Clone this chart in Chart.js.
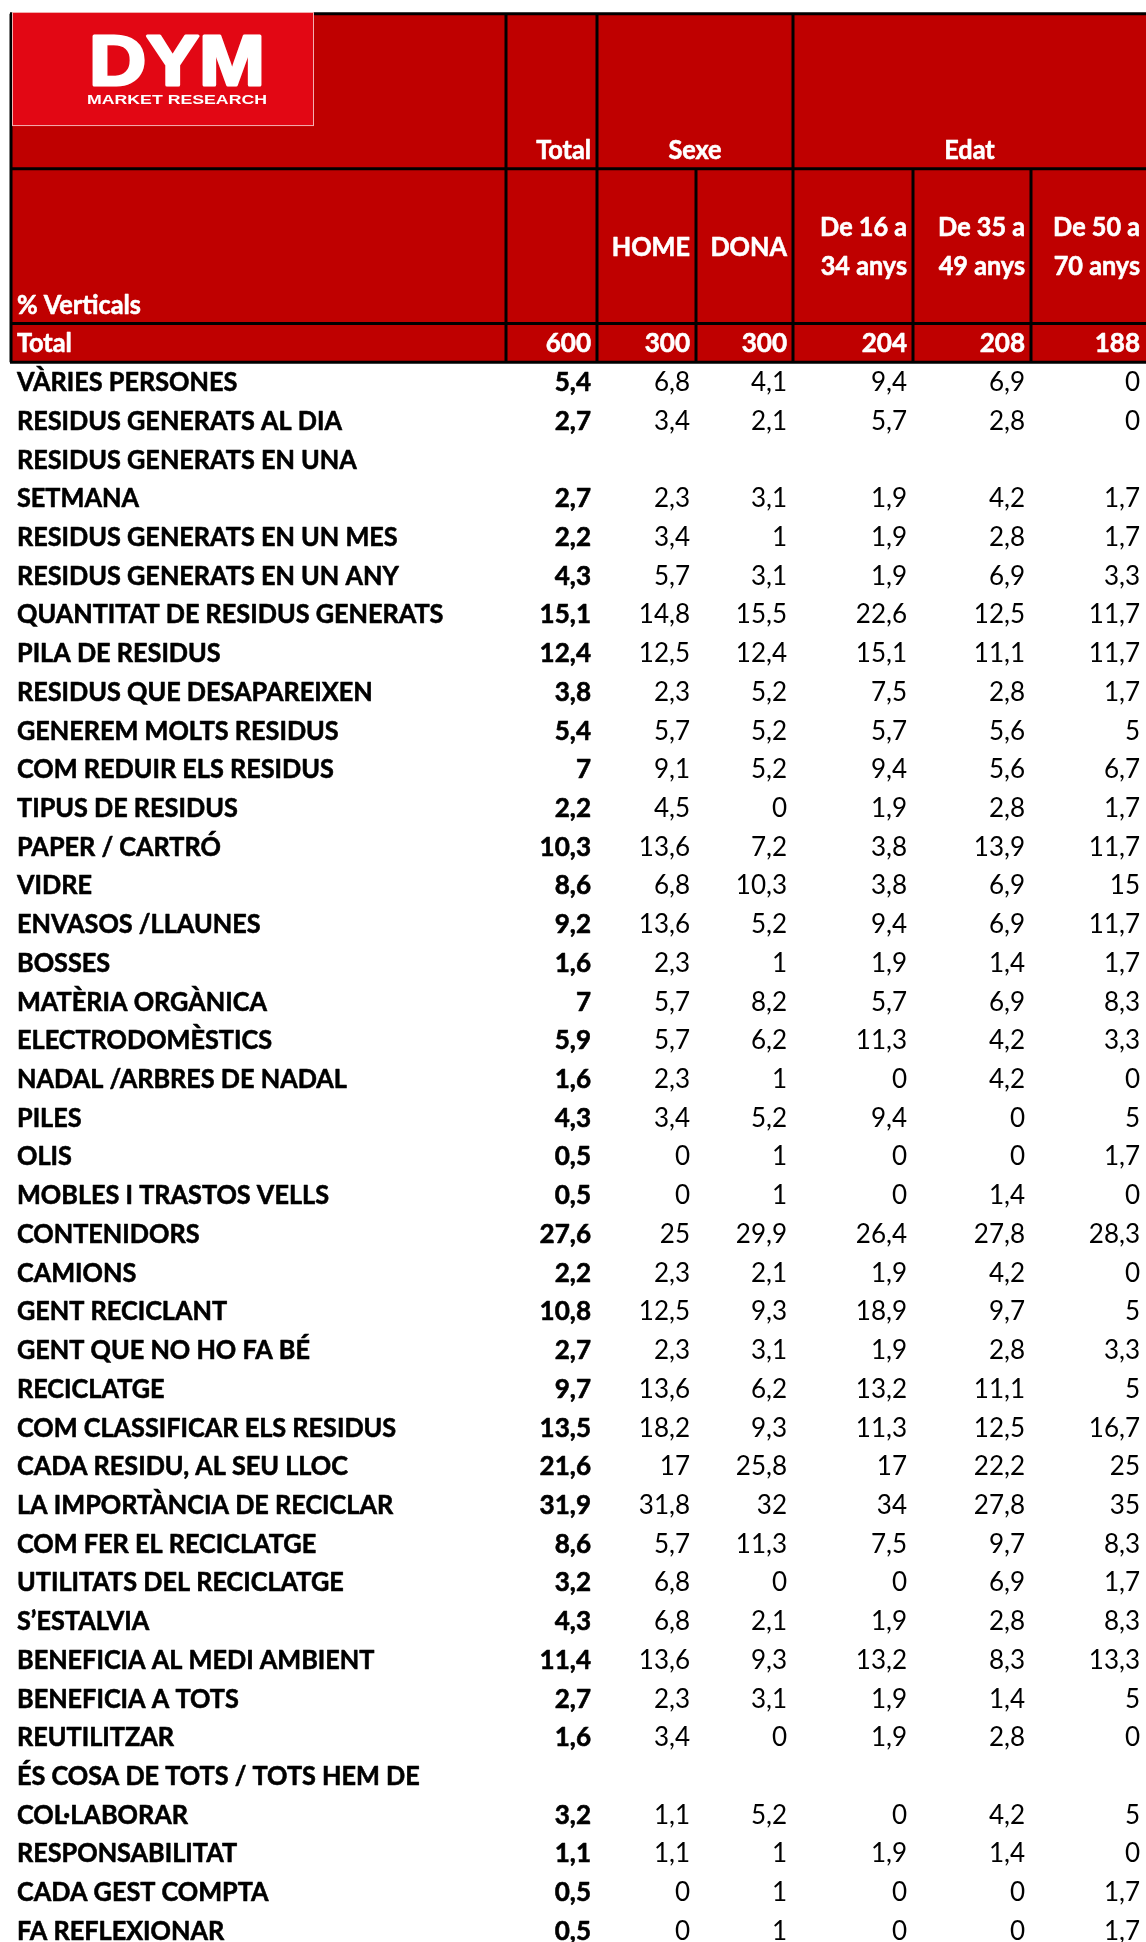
<!DOCTYPE html>
<html>
<head>
<meta charset="utf-8">
<script src="https://cdn.jsdelivr.net/npm/chart.js@4.4.1/dist/chart.umd.min.js"></script>
<style>
  html, body { margin: 0; padding: 0; background: #ffffff; }
  #wrap { width: 1146px; height: 1942px; }
</style>
</head>
<body>
<div id="wrap"><canvas id="tbl" width="1146" height="1942"></canvas></div>
<script>
// rows of the cross table (a "\n" marks where the label wraps in the cell)
const rowLabels = [
  'VÀRIES PERSONES',
  'RESIDUS GENERATS AL DIA',
  'RESIDUS GENERATS EN UNA\nSETMANA',
  'RESIDUS GENERATS EN UN MES',
  'RESIDUS GENERATS EN UN ANY',
  'QUANTITAT DE RESIDUS GENERATS',
  'PILA DE RESIDUS',
  'RESIDUS QUE DESAPAREIXEN',
  'GENEREM MOLTS RESIDUS',
  'COM REDUIR ELS RESIDUS',
  'TIPUS DE RESIDUS',
  'PAPER / CARTRÓ',
  'VIDRE',
  'ENVASOS /LLAUNES',
  'BOSSES',
  'MATÈRIA ORGÀNICA',
  'ELECTRODOMÈSTICS',
  'NADAL /ARBRES DE NADAL',
  'PILES',
  'OLIS',
  'MOBLES I TRASTOS VELLS',
  'CONTENIDORS',
  'CAMIONS',
  'GENT RECICLANT',
  'GENT QUE NO HO FA BÉ',
  'RECICLATGE',
  'COM CLASSIFICAR ELS RESIDUS',
  'CADA RESIDU, AL SEU LLOC',
  'LA IMPORTÀNCIA DE RECICLAR',
  'COM FER EL RECICLATGE',
  'UTILITATS DEL RECICLATGE',
  'S\u2019ESTALVIA',
  'BENEFICIA AL MEDI AMBIENT',
  'BENEFICIA A TOTS',
  'REUTILITZAR',
  'ÉS COSA DE TOTS / TOTS HEM DE\nCOL·LABORAR',
  'RESPONSABILITAT',
  'CADA GEST COMPTA',
  'FA REFLEXIONAR'
];

const totalVals = [5.4, 2.7, 2.7, 2.2, 4.3, 15.1, 12.4, 3.8, 5.4, 7, 2.2, 10.3, 8.6, 9.2, 1.6, 7, 5.9, 1.6, 4.3, 0.5, 0.5, 27.6, 2.2, 10.8, 2.7, 9.7, 13.5, 21.6, 31.9, 8.6, 3.2, 4.3, 11.4, 2.7, 1.6, 3.2, 1.1, 0.5, 0.5];
const homeVals  = [6.8, 3.4, 2.3, 3.4, 5.7, 14.8, 12.5, 2.3, 5.7, 9.1, 4.5, 13.6, 6.8, 13.6, 2.3, 5.7, 5.7, 2.3, 3.4, 0, 0, 25, 2.3, 12.5, 2.3, 13.6, 18.2, 17, 31.8, 5.7, 6.8, 6.8, 13.6, 2.3, 3.4, 1.1, 1.1, 0, 0];
const donaVals  = [4.1, 2.1, 3.1, 1, 3.1, 15.5, 12.4, 5.2, 5.2, 5.2, 0, 7.2, 10.3, 5.2, 1, 8.2, 6.2, 1, 5.2, 1, 1, 29.9, 2.1, 9.3, 3.1, 6.2, 9.3, 25.8, 32, 11.3, 0, 2.1, 9.3, 3.1, 0, 5.2, 1, 1, 1];
const age16Vals = [9.4, 5.7, 1.9, 1.9, 1.9, 22.6, 15.1, 7.5, 5.7, 9.4, 1.9, 3.8, 3.8, 9.4, 1.9, 5.7, 11.3, 0, 9.4, 0, 0, 26.4, 1.9, 18.9, 1.9, 13.2, 11.3, 17, 34, 7.5, 0, 1.9, 13.2, 1.9, 1.9, 0, 1.9, 0, 0];
const age35Vals = [6.9, 2.8, 4.2, 2.8, 6.9, 12.5, 11.1, 2.8, 5.6, 5.6, 2.8, 13.9, 6.9, 6.9, 1.4, 6.9, 4.2, 4.2, 0, 0, 1.4, 27.8, 4.2, 9.7, 2.8, 11.1, 12.5, 22.2, 27.8, 9.7, 6.9, 2.8, 8.3, 1.4, 2.8, 4.2, 1.4, 0, 0];
const age50Vals = [0, 0, 1.7, 1.7, 3.3, 11.7, 11.7, 1.7, 5, 6.7, 1.7, 11.7, 15, 11.7, 1.7, 8.3, 3.3, 0, 5, 1.7, 0, 28.3, 0, 5, 3.3, 5, 16.7, 25, 35, 8.3, 1.7, 8.3, 13.3, 5, 0, 5, 0, 1.7, 1.7];

const baseCounts = [600, 300, 300, 204, 208, 188];
const groupHeaders = ['Total', 'Sexe', 'Edat'];
const subHeaders = ['', 'HOME', 'DONA', 'De 16 a\n34 anys', 'De 35 a\n49 anys', 'De 50 a\n70 anys'];

const valueCols = [totalVals, homeVals, donaVals, age16Vals, age35Vals, age50Vals];

// layout: column edges (x units) and header line slots (y units = text lines)
const colEdges = [10, 506, 597, 696, 793, 913, 1031, 1146];
const HEAD_TOP = -9, HEAD_MID = -5, HEAD_SUB = -1, HEAD_END = 0;

const RED = '#bf0000';
const LOGO_RED = '#e20714';
const FONT = 'Lato';
const SIZE = 27;
const fmt = v => String(v).replace('.', ',');

// text squeezed horizontally by sx; "heavy" adds a thin outline to mimic Calibri Bold
function drawText(ctx, s, px, py, align, sx, heavy) {
  ctx.save();
  ctx.translate(px, py);
  ctx.scale(sx, 1);
  ctx.textAlign = align;
  ctx.fillText(s, 0, 0);
  if (heavy) {
    ctx.strokeStyle = ctx.fillStyle;
    ctx.lineWidth = heavy;
    ctx.lineJoin = 'round';
    ctx.strokeText(s, 0, 0);
  }
  ctx.restore();
}

const crossTable = {
  id: 'crossTable',
  afterDraw(chart) {
    const { ctx, scales: { x, y } } = chart;
    const X = v => x.getPixelForValue(v);
    const Y = v => y.getPixelForValue(v);
    const capOff = 9.5;
    const pad = 6;
    const bold = `bold ${SIZE}px ${FONT}`;
    const reg = `${SIZE}px ${FONT}`;

    ctx.save();
    ctx.textBaseline = 'alphabetic';

    // horizontal squeeze so the substitute font matches the original widths
    ctx.font = bold;
    const sxBold = 312 / ctx.measureText('MOBLES I TRASTOS VELLS').width;
    const sxNum = 51.4 / ctx.measureText('22,6').width;

    // header background
    ctx.fillStyle = RED;
    ctx.fillRect(X(colEdges[0]), Y(HEAD_TOP), X(colEdges[7]) - X(colEdges[0]), Y(HEAD_END) - Y(HEAD_TOP));

    // header borders
    ctx.strokeStyle = '#000000';
    ctx.lineWidth = 3;
    const hLine = (yv, x0, x1) => { ctx.beginPath(); ctx.moveTo(X(x0), Y(yv)); ctx.lineTo(X(x1), Y(yv)); ctx.stroke(); };
    const vLine = (xv, y0, y1) => { ctx.beginPath(); ctx.moveTo(X(xv), Y(y0)); ctx.lineTo(X(xv), Y(y1)); ctx.stroke(); };
    [HEAD_TOP, HEAD_MID, HEAD_SUB, HEAD_END].forEach(v => hLine(v, colEdges[0], colEdges[7] + 5));
    vLine(colEdges[0] + 1, HEAD_TOP, HEAD_END);
    [1, 2, 4].forEach(i => vLine(colEdges[i], HEAD_TOP, HEAD_END));
    [3, 5, 6].forEach(i => vLine(colEdges[i], HEAD_MID, HEAD_END));

    // logo
    const lx0 = 12, lx1 = 314, ly0 = -9.045, ly1 = -6.10;
    ctx.fillStyle = LOGO_RED;
    ctx.fillRect(X(lx0), Y(ly0), X(lx1) - X(lx0), Y(ly1) - Y(ly0));
    ctx.strokeStyle = '#f3b0b0';
    ctx.lineWidth = 1;
    ctx.strokeRect(X(lx0) + 0.5, Y(ly0) + 0.5, X(lx1) - X(lx0) - 1, Y(ly1) - Y(ly0) - 1);
    ctx.fillStyle = '#ffffff';
    ctx.font = 'bold 70px "Liberation Sans"';
    const dymW = ctx.measureText('DYM').width;
    drawText(ctx, 'DYM', X(177), Y(-7.16), 'center', 176 / dymW, 3);
    ctx.font = 'bold 12px "Liberation Sans"';
    const mrW = ctx.measureText('MARKET RESEARCH').width;
    drawText(ctx, 'MARKET RESEARCH', X(177), Y(-6.66), 'center', 180 / mrW);

    // header texts
    ctx.fillStyle = '#ffffff';
    ctx.font = bold;
    const row1Base = Y(HEAD_MID - 0.5) + capOff;
    drawText(ctx, groupHeaders[0], X(colEdges[2]) - pad, row1Base, 'right', sxBold, 0.6);
    drawText(ctx, groupHeaders[1], (X(colEdges[2]) + X(colEdges[4])) / 2, row1Base, 'center', sxBold, 0.6);
    drawText(ctx, groupHeaders[2], (X(colEdges[4]) + X(colEdges[7])) / 2, row1Base, 'center', sxBold, 0.6);

    const subMid = (HEAD_MID + HEAD_SUB) / 2;
    subHeaders.forEach((h, c) => {
      if (!h) return;
      const lines = h.split('\n');
      lines.forEach((ln, k) => {
        const yc = subMid - (lines.length - 1) / 2 + k;
        drawText(ctx, ln, X(colEdges[c + 2]) - pad, Y(yc) + capOff, 'right', sxBold, 0.6);
      });
    });
    drawText(ctx, '% Verticals', X(17), Y(HEAD_SUB - 0.5) + capOff, 'left', sxBold, 0.6);

    // Total (base) row
    const baseY = Y(HEAD_END - 0.5) + capOff;
    drawText(ctx, 'Total', X(17), baseY, 'left', sxBold, 0.6);
    baseCounts.forEach((n, c) => drawText(ctx, String(n), X(colEdges[c + 2]) - pad, baseY, 'right', sxNum, 0.6));

    // data rows
    ctx.fillStyle = '#000000';
    let slot = 0;
    rowLabels.forEach((label, r) => {
      const lines = label.split('\n');
      ctx.font = bold;
      lines.forEach((ln, k) => drawText(ctx, ln, X(17), Y(slot + k + 0.5) + capOff, 'left', sxBold, 0.6));
      const vy = Y(slot + lines.length - 0.5) + capOff;
      valueCols.forEach((col, c) => {
        ctx.font = c === 0 ? bold : reg;
        drawText(ctx, fmt(col[r]), X(colEdges[c + 2]) - pad, vy, 'right', sxNum, c === 0 ? 0.6 : 0);
      });
      slot += lines.length;
    });

    ctx.restore();
  }
};

new Chart(document.getElementById('tbl'), {
  type: 'scatter',
  data: { datasets: [] },
  options: {
    responsive: false,
    animation: false,
    devicePixelRatio: 1,
    layout: { padding: 0 },
    plugins: { legend: { display: false }, tooltip: { enabled: false } },
    scales: {
      x: { type: 'linear', display: false, min: 0, max: 1146 },
      y: { type: 'linear', display: false, reverse: true, min: -9.3554, max: 40.8 }
    }
  },
  plugins: [crossTable]
});
</script>
</body>
</html>
